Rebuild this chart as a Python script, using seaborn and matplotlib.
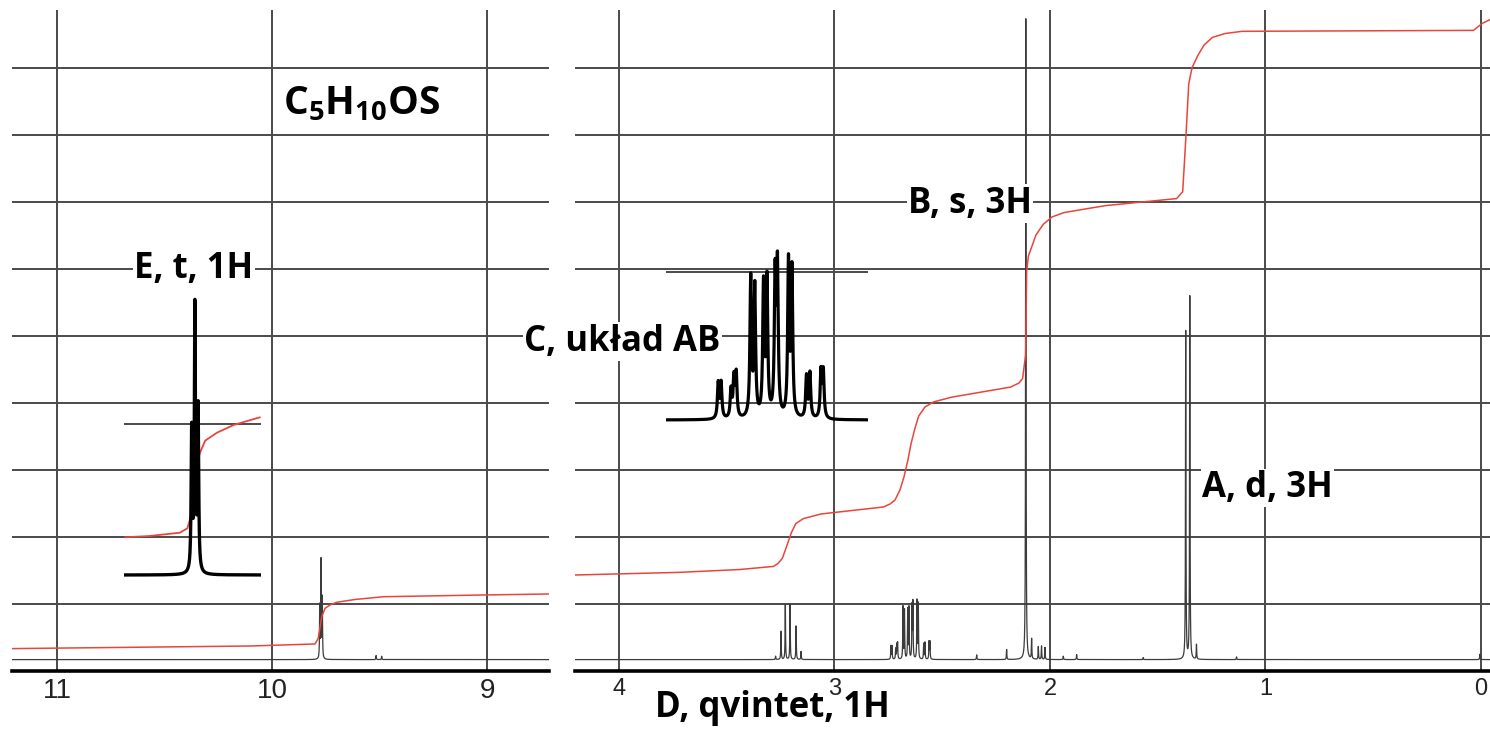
import numpy as np
import pandas as pd
import matplotlib
matplotlib.use("Agg")
import matplotlib.pyplot as plt
import seaborn as sns

# ------------------------------------------------------------------ data
left_xticks = [11, 10, 9]
right_xticks = [4, 3, 2, 1, 0]
grid_levels = [1, 2, 3, 4, 5, 6, 7, 8, 9]

# peak lists: ppm, height above baseline (grid units)
E_ppm = [9.778, 9.772, 9.766]
E_height = [0.78, 1.46, 0.90]
left_minor_ppm = [9.516, 9.490]
left_minor_height = [0.06, 0.05]

D_ppm = [3.273, 3.248, 3.228, 3.206, 3.178, 3.155]
D_height = [0.05, 0.42, 0.82, 0.82, 0.50, 0.12]

C_ppm = [2.738, 2.733, 2.716, 2.711, 2.707, 2.682, 2.675, 2.660, 2.654,
         2.640, 2.636, 2.617, 2.611, 2.586, 2.580, 2.561, 2.557]
C_rel = [0.23, 0.23, 0.18, 0.25, 0.28, 0.90, 0.84, 0.85, 0.88,
         0.89, 0.95, 1.00, 0.95, 0.27, 0.29, 0.30, 0.30]
C_main_max = 0.865

B_ppm = [2.112, 2.085, 2.054, 2.039, 2.023]
B_height = [9.56, 0.30, 0.19, 0.20, 0.18]

A_ppm = [1.370, 1.351, 1.320]
A_height = [4.89, 5.41, 0.22]

right_minor_ppm = [2.340, 2.201, 1.938, 1.876, 1.567, 1.134, 0.005]
right_minor_height = [0.07, 0.15, 0.05, 0.075, 0.03, 0.04, 0.08]

baseline_level = 0.17

# integral curves
int_right_ppm = [4.204, 3.723, 3.439, 3.283, 3.262, 3.242, 3.223, 3.200, 3.179,
                 3.145, 3.063, 2.774, 2.742, 2.719, 2.696, 2.677, 2.659, 2.645,
                 2.626, 2.609, 2.580, 2.540, 2.457, 2.182, 2.144, 2.127, 2.113,
                 2.108, 2.100, 2.086, 2.065, 2.031, 1.991, 1.935, 1.838, 1.742,
                 1.412, 1.384, 1.370, 1.356, 1.341, 1.315, 1.285, 1.246, 1.188,
                 1.109, 0.035, -0.006, -0.042]
int_right_val = [1.432, 1.471, 1.514, 1.560, 1.604, 1.680, 1.850, 2.063, 2.200,
                 2.272, 2.342, 2.446, 2.491, 2.551, 2.700, 2.900, 3.147, 3.386,
                 3.625, 3.804, 3.938, 4.014, 4.084, 4.236, 4.296, 4.363, 4.714,
                 5.967, 6.190, 6.314, 6.504, 6.663, 6.772, 6.838, 6.891, 6.942,
                 7.047, 7.151, 7.918, 8.756, 8.995, 9.174, 9.338, 9.451, 9.509,
                 9.542, 9.556, 9.660, 9.717]
int_left_ppm = [11.207, 10.098, 9.800, 9.785, 9.777, 9.769, 9.753, 9.730, 9.699,
                9.614, 9.482, 9.017, 8.707]
int_left_val = [0.334, 0.373, 0.403, 0.488, 0.641, 0.810, 0.936, 0.985, 1.025,
                1.067, 1.108, 1.134, 1.149]

# inset E (aldehyde triplet, expanded)
E_inset_max = 264
E_inset_int_ppm = [9.902, 9.856, 9.800, 9.786, 9.778, 9.769, 9.763, 9.753, 9.731, 9.700, 9.651]
E_inset_int_val = [37.7, 39, 42.3, 46.7, 61.7, 108.3, 121.7, 134.3, 142.3, 150, 157.7]
E_inset_grid = 151

# inset C (AB system, expanded)
C_inset_max = 154
C_inset_grid = 148.3

# ------------------------------------------------------------------ style
W, H = 1490, 733
sns.set_theme(style="white")
plt.rcParams["font.family"] = ["Liberation Sans", "DejaVu Sans"]
plt.rcParams["text.color"] = "black"
plt.rcParams["mathtext.fontset"] = "custom"
plt.rcParams["mathtext.bf"] = "Open Sans:bold"
plt.rcParams["mathtext.rm"] = "Open Sans:bold"
plt.rcParams["mathtext.default"] = "bf"

GRID_C = "#4a4a4a"
TRACE_C = "#3c3c3c"
RED = "#e8453c"


def px_axes(fig, x0, y0, x1, y1, **kw):
    return fig.add_axes([x0 / W, 1 - y1 / H, (x1 - x0) / W, (y1 - y0) / H], **kw)


def lorentz_trace(lo, hi, centers, heights, hwhm, step, offset=0.0):
    grid = np.union1d(np.arange(lo, hi, step), np.asarray(centers))
    c = np.asarray(centers)[:, None]
    h = np.asarray(heights)[:, None]
    y = (h * hwhm ** 2 / ((grid[None, :] - c) ** 2 + hwhm ** 2)).sum(axis=0)
    return pd.DataFrame({"ppm": grid, "val": y + offset})


def style_main(ax, xlim, ticks, labelsize):
    ax.set_xlim(*xlim)
    ax.set_ylim(0, 9.86)
    ax.set_xticks(ticks)
    ax.set_xticklabels([str(t) for t in ticks])
    ax.set_yticks(grid_levels)
    ax.tick_params(axis="y", left=False, labelleft=False)
    ax.tick_params(axis="x", length=0, pad=5, labelsize=labelsize, labelcolor="#222222")
    ax.grid(True, color=GRID_C, lw=1.4)
    ax.set_axisbelow(True)
    for s in ["top", "left", "right"]:
        ax.spines[s].set_visible(False)
    ax.spines["bottom"].set_color("black")
    ax.spines["bottom"].set_linewidth(2.6)
    ax.set_xlabel("")
    ax.set_ylabel("")
    ax.set_facecolor("white")


fig = plt.figure(figsize=(W / 100, H / 100), dpi=100)
fig.patch.set_facecolor("white")

# ------------------------------------------------------------------ left panel
axL = px_axes(fig, 12, 10, 549, 671)
left_df = lorentz_trace(8.70, 11.21, E_ppm + left_minor_ppm, E_height + left_minor_height,
                        0.0012, 0.0004, baseline_level)
sns.lineplot(data=left_df, x="ppm", y="val", ax=axL, color=TRACE_C, lw=0.9,
             estimator=None, sort=False)
sns.lineplot(x=int_left_ppm, y=int_left_val, ax=axL, color=RED, lw=1.1,
             estimator=None, sort=False)
style_main(axL, (11.209, 8.712), left_xticks, 20)

# ------------------------------------------------------------------ right panel
axR = px_axes(fig, 575, 10, 1490, 671)
r_ppm = D_ppm + C_ppm + B_ppm + A_ppm + right_minor_ppm
r_h = (D_height + [r * C_main_max for r in C_rel] + B_height + A_height
       + right_minor_height)
right_df = lorentz_trace(-0.05, 4.21, r_ppm, r_h, 0.0012, 0.0004, baseline_level)
sns.lineplot(data=right_df, x="ppm", y="val", ax=axR, color=TRACE_C, lw=0.9,
             estimator=None, sort=False)
sns.lineplot(x=int_right_ppm, y=int_right_val, ax=axR, color=RED, lw=1.1,
             estimator=None, sort=False)
style_main(axR, (4.204, -0.042), right_xticks, 17)

# ------------------------------------------------------------------ inset E
axE = px_axes(fig, 124, 290, 261, 590)
axE.set_facecolor("white")
axE.axhline(E_inset_grid, color=GRID_C, lw=1.4, zorder=0)
emax = max(E_height)
E_df = lorentz_trace(9.64, 9.91, E_ppm, [h / emax * E_inset_max for h in E_height],
                     0.0012, 0.0002)
sns.lineplot(x=E_inset_int_ppm, y=E_inset_int_val, ax=axE, color=RED, lw=1.3,
             estimator=None, sort=False)
sns.lineplot(data=E_df, x="ppm", y="val", ax=axE, color="black", lw=2.4,
             estimator=None, sort=False)
axE.set_xlim(9.904, 9.649)
axE.set_ylim(-15, 285)
axE.set_axis_off()
axE.patch.set_visible(True)
axE.set_zorder(5)

# ------------------------------------------------------------------ inset C
axC = px_axes(fig, 666, 243, 868, 439)
axC.set_facecolor("white")
axC.axhline(C_inset_grid, color=GRID_C, lw=1.4, zorder=0)
C_df = lorentz_trace(2.47, 2.84, C_ppm, [r * C_inset_max for r in C_rel], 0.0016, 0.0002)
sns.lineplot(data=C_df, x="ppm", y="val", ax=axC, color="black", lw=2.3,
             estimator=None, sort=False)
axC.set_xlim(2.828, 2.480)
axC.set_ylim(-19, 177)
axC.set_axis_off()
axC.patch.set_visible(True)
axC.set_zorder(5)

# ------------------------------------------------------------------ labels
FAM = ["Open Sans", "DejaVu Sans"]


def ftext(x, y, s, size, box=True):
    kw = dict(fontfamily=FAM, fontweight="bold", color="black",
              ha="left", va="baseline", zorder=10)
    if box:
        kw["bbox"] = dict(facecolor="white", edgecolor="none", pad=1.0)
    fig.text(x / W, 1 - y / H, s, fontsize=size, **kw)


ftext(283, 114.5, r"C$_5$H$_{10}$OS", 28, box=False)
ftext(134, 278, "E, t, 1H", 25)
ftext(908, 212.6, "B, s, 3H", 25)
ftext(524, 350.5, "C, układ AB", 25)
ftext(1202, 497, "A, d, 3H", 25)
ftext(655, 717, "D, qvintet, 1H", 25, box=False)

fig.savefig("out.png", dpi=100, facecolor="white")
